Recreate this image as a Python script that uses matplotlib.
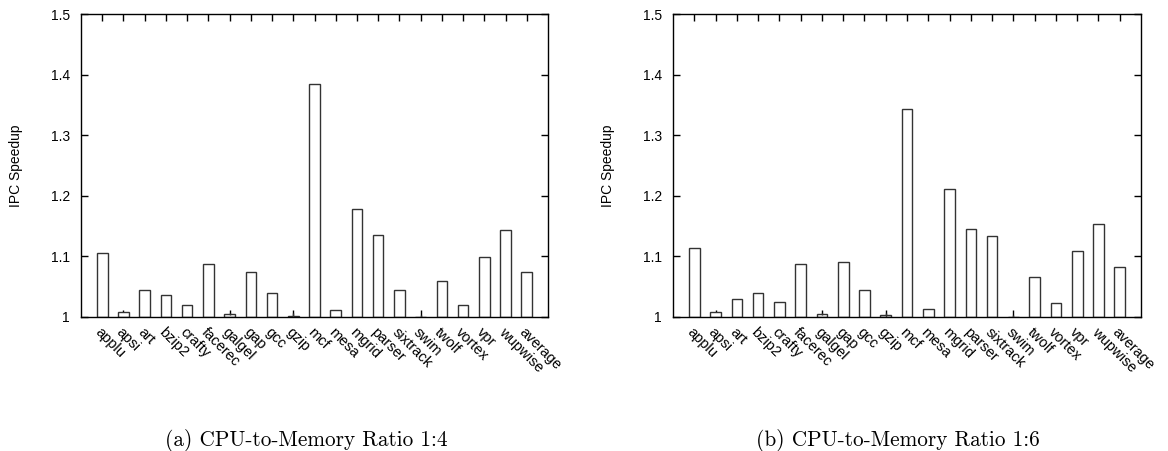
"""
IPC speedup per benchmark for two CPU-to-memory ratios, gnuplot-style bars.
"""
import matplotlib

matplotlib.use("Agg")
import matplotlib.pyplot as plt
import numpy as np
from matplotlib.transforms import ScaledTranslation

benchmarks = ["applu", "apsi", "art", "bzip2", "crafty", "facerec", "galgel",
              "gap", "gcc", "gzip", "mcf", "mesa", "mgrid", "parser",
              "sixtrack", "swim", "twolf", "vortex", "vpr", "wupwise",
              "average"]

speedup_1to4 = [1.105, 1.009, 1.044, 1.037, 1.019, 1.088, 1.005, 1.075,
                1.039, 1.002, 1.385, 1.012, 1.179, 1.136, 1.044, 1.000,
                1.059, 1.019, 1.099, 1.143, 1.075]
err_1to4 = [0, 0, 0, 0, 0, 0, 0.002, 0, 0, 0.004, 0, 0, 0, 0, 0, 0.004,
            0, 0, 0, 0, 0]

speedup_1to6 = [1.114, 1.009, 1.030, 1.039, 1.024, 1.088, 1.005, 1.091,
                1.044, 1.003, 1.344, 1.014, 1.211, 1.145, 1.134, 1.000,
                1.066, 1.023, 1.109, 1.153, 1.083]
err_1to6 = [0, 0, 0, 0, 0, 0, 0.002, 0, 0, 0.004, 0, 0, 0, 0, 0, 0.004,
            0, 0, 0, 0, 0]

captions = ["(a) CPU-to-Memory Ratio 1:4", "(b) CPU-to-Memory Ratio 1:6"]
y_ticks = [1.0, 1.1, 1.2, 1.3, 1.4, 1.5]
y_tick_labels = ["1", "1.1", "1.2", "1.3", "1.4", "1.5"]

plt.rcParams["font.family"] = ["Liberation Sans", "DejaVu Sans"]

fig = plt.figure(figsize=(11.68, 4.51), dpi=100)
W, H = 1168.0, 451.0
# axes boxes in pixels: left, right, top, bottom
boxes = [(81, 548, 14, 317), (673, 1141, 14, 317)]
caption_x = [306, 898]

x = np.arange(1, len(benchmarks) + 1)
for (l, r, t, b), vals, errs, cap, cx in zip(
        boxes, [speedup_1to4, speedup_1to6], [err_1to4, err_1to6],
        captions, caption_x):
    ax = fig.add_axes([l / W, 1 - b / H, (r - l) / W, (b - t) / H])
    heights = np.array(vals) - 1.0
    ax.bar(x, heights, bottom=1.0, width=0.5, color="white",
           edgecolor="#333333", linewidth=1.0, zorder=2)
    ax.errorbar(x, vals, yerr=errs, fmt="none", ecolor="#333333",
                elinewidth=1.0, capsize=0, zorder=3)
    ax.set_xlim(0, len(benchmarks) + 1)
    ax.set_ylim(1.0, 1.5)
    ax.set_yticks(y_ticks, y_tick_labels, fontsize=10)
    ax.set_xticks(x)
    ax.set_xticklabels(benchmarks, rotation=-45, ha="left", va="top",
                       rotation_mode="anchor", fontsize=10.5)
    shift = ScaledTranslation(3 / 100, 0, fig.dpi_scale_trans)
    for lab in ax.get_xticklabels():
        lab.set_transform(lab.get_transform() + shift)
    ax.tick_params(axis="y", direction="in", right=True, length=5,
                   width=1, pad=8)
    ax.tick_params(axis="x", direction="in", top=True, length=5,
                   width=1, pad=6)
    for s in ax.spines.values():
        s.set_linewidth(1.0)
    ax.set_ylabel("IPC Speedup", fontsize=10)
    ax.yaxis.set_label_coords(-58 / (r - l), 0.5)
    fig.text(cx / W, 1 - 440 / H, cap, ha="center", va="center",
             fontsize=15.3, family=["cmr10", "DejaVu Serif"])

fig.savefig("out.png", dpi=100)
